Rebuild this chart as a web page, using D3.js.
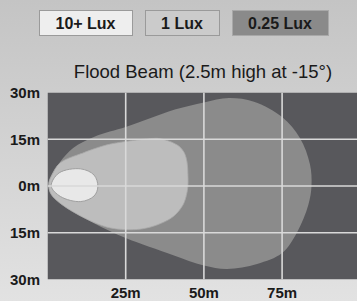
<!DOCTYPE html>
<html>
<head>
<meta charset="utf-8">
<script src="https://cdn.jsdelivr.net/npm/d3@7"></script>
<style>
  html, body { margin: 0; padding: 0; overflow: hidden; }
  svg { display: block; font-family: "Liberation Sans", Arial, sans-serif; }
</style>
</head>
<body>
<svg id="chart" width="357" height="301"></svg>
<script>
// legend
var legendLabels = ["10+ Lux", "1 Lux", "0.25 Lux"];
var legendFills = ["#eeeeee", "#cbcbcb", "#8a8a8a"];

// ticks
var xTicks = [25, 50, 75];
var xTickLabels = ["25m", "50m", "75m"];
var yTicks = [30, 15, 0, -15, -30];
var yTickLabels = ["30m", "15m", "0m", "15m", "30m"];

// beam contours, [distance m, lateral m]
var lux025 = [[0.3, 0.4], [1, 3], [4, 7.7], [8.2, 12.2], [15, 15.8], [25, 18.9], [33, 21.8],
    [41, 24.6], [50, 26.8], [58, 28.2], [66, 27], [75, 22.1], [80.7, 15.4], [83.9, 7],
    [84.4, 0], [83.4, -6], [79.8, -14.8], [75, -21.5], [67, -25], [57.4, -26.6], [50, -25.5],
    [40, -22.1], [25, -16.7], [15, -12], [8, -8], [3, -4.5], [0.8, -2]];
var lux1 = [[0.4, 0.8], [1.4, 3.5], [4, 7.4], [11.3, 10.6], [19, 13.2], [25.1, 14.3], [31.8, 15.1],
    [36, 15.2], [41.4, 13.2], [43.6, 10.9], [44.6, 7.7], [44.9, 3.5], [44.9, 0], [44.4, -3],
    [43.3, -6.1], [40.1, -9.9], [35, -12.5], [30, -13.8], [25, -14], [19, -13.2], [11.3, -10],
    [4, -5.5], [1, -2.4]];
var lux10 = [[1.2, 0], [3.7, 4.2], [10.6, 5.5], [14.9, 3.5], [16.1, -0.2], [14.9, -3.2],
    [10.6, -5], [4.2, -3.4]];

var svg = d3.select("#chart");

var defs = svg.append("defs");
var grad = defs.append("linearGradient").attr("id", "bg").attr("x1", 0).attr("y1", 0).attr("x2", 0).attr("y2", 1);
grad.append("stop").attr("offset", "0%").attr("stop-color", "#c4c4c4");
grad.append("stop").attr("offset", "100%").attr("stop-color", "#e2e2e2");

svg.append("rect").attr("width", 357).attr("height", 301).attr("fill", "url(#bg)");

var xScale = d3.scaleLinear().domain([0, 100]).range([47.5, 360.3]);
var yScale = d3.scaleLinear().domain([-30, 30]).range([279.5, 92.5]);

defs.append("clipPath").attr("id", "plotClip")
    .append("rect")
    .attr("x", xScale(0)).attr("y", yScale(30))
    .attr("width", xScale(100) - xScale(0)).attr("height", yScale(-30) - yScale(30));

var plot = svg.append("g").attr("clip-path", "url(#plotClip)");

plot.append("rect")
    .attr("x", xScale(0)).attr("y", yScale(30))
    .attr("width", xScale(100) - xScale(0)).attr("height", yScale(-30) - yScale(30))
    .attr("fill", "#58585c");

var line = d3.line()
    .x(function(d) { return xScale(d[0]); })
    .y(function(d) { return yScale(d[1]); })
    .curve(d3.curveCatmullRomClosed.alpha(0.5));

plot.append("path").attr("d", line(lux025)).attr("fill", "#8b8b8b");
plot.append("path").attr("d", line(lux1)).attr("fill", "#bdbdbd").attr("stroke", "#a9a9a9").attr("stroke-width", 0.8);
plot.append("path").attr("d", line(lux10)).attr("fill", "#e8e8e8").attr("stroke", "#a0a0a0").attr("stroke-width", 1);

// grid
plot.selectAll(".vgrid").data(xTicks).enter().append("line")
    .attr("x1", function(d) { return xScale(d); })
    .attr("x2", function(d) { return xScale(d); })
    .attr("y1", yScale(30)).attr("y2", yScale(-30))
    .attr("stroke", "#d9d9d9").attr("stroke-width", 1.6);
plot.selectAll(".hgrid").data([15, 0, -15]).enter().append("line")
    .attr("y1", function(d) { return yScale(d); })
    .attr("y2", function(d) { return yScale(d); })
    .attr("x1", xScale(0)).attr("x2", xScale(100))
    .attr("stroke", "#d9d9d9").attr("stroke-width", 1.6);

// axis labels
svg.selectAll(".ylab").data(yTicks).enter().append("text")
    .attr("x", 40)
    .attr("y", function(d) { return yScale(d); })
    .attr("dy", "0.36em")
    .attr("text-anchor", "end")
    .attr("font-size", "15px").attr("font-weight", "bold").attr("fill", "#1a1a1a")
    .text(function(d, i) { return yTickLabels[i]; });

svg.selectAll(".xlab").data(xTicks).enter().append("text")
    .attr("x", function(d) { return xScale(d); })
    .attr("y", 298)
    .attr("text-anchor", "middle")
    .attr("font-size", "15px").attr("font-weight", "bold").attr("fill", "#1a1a1a")
    .text(function(d, i) { return xTickLabels[i]; });

// title
svg.append("text")
    .attr("x", 203).attr("y", 78)
    .attr("text-anchor", "middle")
    .attr("font-size", "18.5px").attr("fill", "#1a1a1a")
    .text("Flood Beam (2.5m high at -15°)");

// legend
var boxes = [[39, 93], [145, 74], [232, 96]];
var leg = svg.selectAll(".leg").data(legendLabels).enter().append("g");
leg.append("rect")
    .attr("x", function(d, i) { return boxes[i][0] + 0.5; })
    .attr("y", 10.5)
    .attr("width", function(d, i) { return boxes[i][1]; })
    .attr("height", 25)
    .attr("fill", function(d, i) { return legendFills[i]; })
    .attr("stroke", function(d, i) { return i == 2 ? "#a8a8a8" : "#9a9a9a"; })
    .attr("stroke-width", 1);
leg.append("text")
    .attr("x", function(d, i) { return boxes[i][0] + boxes[i][1] / 2; })
    .attr("y", 28.5)
    .attr("text-anchor", "middle")
    .attr("font-size", "16px").attr("font-weight", "bold").attr("fill", "#1a1a1a")
    .text(function(d) { return d; });
</script>
</body>
</html>
